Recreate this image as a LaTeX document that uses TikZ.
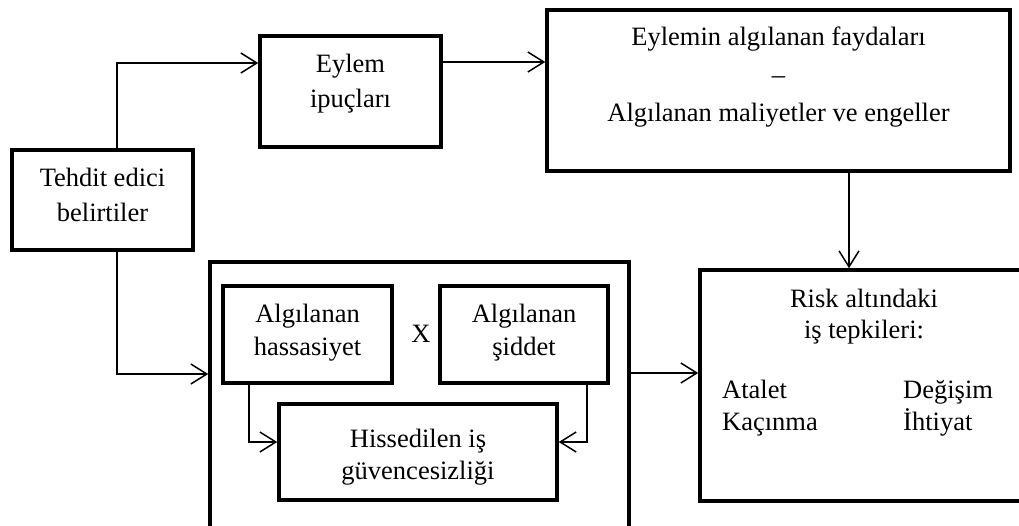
\documentclass[tikz,border=0pt]{standalone}
\usepackage{fontspec}
\setmainfont{Liberation Serif}
\usetikzlibrary{arrows.meta}
\begin{document}
\begin{tikzpicture}[x=1pt,y=-1pt,
  box/.style={draw,line width=3.5pt,inner sep=0pt},
  conn/.style={line width=1.5pt,-{Straight Barb[length=16pt,width=20pt,line width=1.5pt]}},
  txt/.style={anchor=base,inner sep=0pt,font=\fontsize{26.5}{34}\selectfont},
  ltxt/.style={txt,anchor=base west}]
\clip (0,0) rectangle (1019,525);
\fill[white] (0,0) rectangle (1019,525);

% boxes
\node[box,minimum width=181pt,minimum height=100pt] (tehdit) at (102.5,200) {};
\node[box,minimum width=181pt,minimum height=111pt] (eylem) at (350.5,91.5) {};
\node[box,minimum width=463pt,minimum height=161pt] (fayda) at (778.5,90.5) {};
\node[box,minimum width=419pt,minimum height=283pt] (outer) at (419.5,403.5) {};
\node[box,minimum width=169pt,minimum height=97pt] (hass) at (307.5,334.5) {};
\node[box,minimum width=168pt,minimum height=97pt] (sidd) at (524,334.5) {};
\node[box,minimum width=278pt,minimum height=96pt] (his) at (418,452) {};
\node[box,minimum width=340pt,minimum height=231pt] (risk) at (870,385.5) {};

% texts
\node[txt] (t1a) at (102.5,186) {Tehdit edici};
\node[txt] (t1b) at (102.5,221) {belirtiler};
\node[txt] (t2a) at (350.5,72) {Eylem};
\node[txt] (t2b) at (350.5,107) {ipuçları};
\node[txt] (t3a) at (778.5,45) {Eylemin algılanan faydaları};
\node[txt] (t3b) at (778.5,83) {–};
\node[txt] (t3c) at (778.5,121) {Algılanan maliyetler ve engeller};
\node[txt] (t4a) at (307.5,322) {Algılanan};
\node[txt] (t4b) at (307.5,355) {hassasiyet};
\node[txt] (t5a) at (524,322) {Algılanan};
\node[txt] (t5b) at (524,355) {şiddet};
\node[txt] (times) at (421,342) {X};
\node[txt] (t6a) at (418,447) {Hissedilen iş};
\node[txt] (t6b) at (418,479) {güvencesizliği};
\node[txt] (t7a) at (864,307) {Risk altındaki};
\node[txt] (t7b) at (864,338) {iş tepkileri:};
\node[ltxt] (r1) at (722,398) {Atalet};
\node[ltxt] (r2) at (722,430) {Kaçınma};
\node[ltxt] (r3) at (903,398) {Değişim};
\node[ltxt] (r4) at (903,430) {İhtiyat};

% connector bends
\coordinate (xa) at (117,63);
\coordinate (ya) at (0,62);
\coordinate (xb) at (849,0);
\coordinate (xc) at (117,374);
\coordinate (yd) at (0,373);
\coordinate (xe) at (249,442);
\coordinate (xf) at (587,442);

% connectors
\draw[conn] (tehdit.north -| xa) -- (xa) -- (eylem.west |- xa);
\draw[conn] (eylem.east |- ya) -- (fayda.west |- ya);
\draw[conn] (fayda.south -| xb) -- (risk.north -| xb);
\draw[conn] (tehdit.south -| xc) -- (xc) -- (outer.west |- xc);
\draw[conn] (outer.east |- yd) -- (risk.west |- yd);
\draw[conn] (hass.south -| xe) -- (xe) -- (his.west |- xe);
\draw[conn] (sidd.south -| xf) -- (xf) -- (his.east |- xf);
\end{tikzpicture}
\end{document}
